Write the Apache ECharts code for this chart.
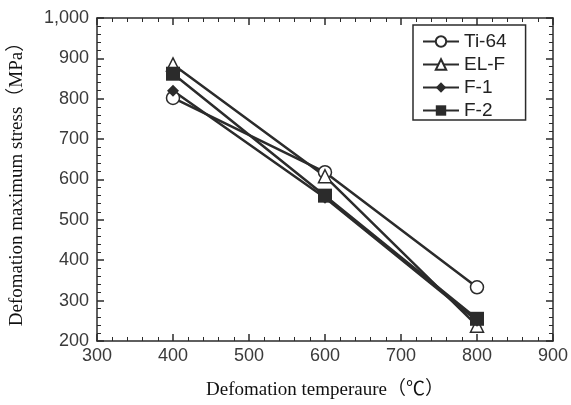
<!DOCTYPE html>
<html>
<head>
<meta charset="utf-8">
<script src="https://cdn.jsdelivr.net/npm/echarts@6/dist/echarts.min.js"></script>
<style>
  html, body { margin: 0; padding: 0; background: #fff; }
  #chart { width: 571px; height: 405px; }
</style>
</head>
<body>
<div id="chart"></div>
<script>
// Deformation temperature (°C) and peak stress (MPa) per alloy
const temperatures = [400, 600, 800];
const ti64 = [802, 618, 333];
const elF = [885, 608, 238];
const f1 = [820, 555, 250];
const f2 = [862, 560, 255];
const seriesNames = ['Ti-64', 'EL-F', 'F-1', 'F-2'];

const ink = '#2b2b2b';
const tickFont = { color: '#3a3a3a', fontSize: 18, fontFamily: 'Liberation Sans, Arial, sans-serif' };
const titleFont = { color: '#111', fontSize: 19, fontFamily: 'Liberation Serif, Noto Sans CJK SC, serif' };

function pairs(values) {
  return temperatures.map((t, i) => [t, values[i]]);
}

function makeSeries(name, values, symbol, size, filled) {
  return {
    name: name,
    type: 'line',
    data: pairs(values),
    symbol: symbol,
    symbolSize: size,
    showAllSymbol: true,
    lineStyle: { color: ink, width: 2.5 },
    itemStyle: filled
      ? { color: ink, borderColor: ink, borderWidth: 0 }
      : { color: '#fff', borderColor: ink, borderWidth: 1.5 },
    emphasis: { disabled: true },
    animation: false
  };
}

const chart = echarts.init(document.getElementById('chart'), null, { renderer: 'canvas' });

const commonAxisLine = { show: true, lineStyle: { color: ink, width: 1.5 } };
const majorTick = { show: true, inside: true, length: 7, lineStyle: { color: ink, width: 1.5 } };
const minorTick = { show: true, splitNumber: 5, length: 4, lineStyle: { color: ink, width: 1 } };

chart.setOption({
  backgroundColor: '#fff',
  animation: false,
  grid: { left: 95, right: 18, top: 18, bottom: 59 },
  legend: {
    orient: 'vertical',
    left: 413,
    top: 25,
    width: 112,
    padding: [7, 19, 0, 9],
    itemGap: 4,
    itemWidth: 36,
    itemHeight: 13,
    borderColor: ink,
    borderWidth: 1.5,
    textStyle: { color: '#222', fontSize: 19, lineHeight: 18, fontFamily: 'Liberation Sans, Arial, sans-serif', padding: [0, 0, 0, 0] },
    data: seriesNames
  },
  xAxis: [
    {
      type: 'value',
      min: 300,
      max: 900,
      interval: 100,
      position: 'bottom',
      name: 'Defomation temperaure（℃）',
      nameLocation: 'middle',
      nameGap: 40,
      nameTextStyle: titleFont,
      axisLine: commonAxisLine,
      axisTick: majorTick,
      minorTick: minorTick,
      axisLabel: Object.assign({ margin: 6 }, tickFont),
      splitLine: { show: false }
    },
    {
      type: 'value',
      min: 300,
      max: 900,
      interval: 100,
      position: 'top',
      axisLine: commonAxisLine,
      axisTick: majorTick,
      minorTick: minorTick,
      axisLabel: { show: false },
      splitLine: { show: false }
    }
  ],
  yAxis: [
    {
      type: 'value',
      min: 200,
      max: 1000,
      interval: 100,
      position: 'left',
      name: 'Defomation maximum stress（MPa）',
      nameLocation: 'middle',
      nameGap: 70,
      nameTextStyle: titleFont,
      axisLine: commonAxisLine,
      axisTick: majorTick,
      minorTick: minorTick,
      axisLabel: Object.assign({
        margin: 8,
        formatter: v => v.toLocaleString('en-US')
      }, tickFont),
      splitLine: { show: false }
    },
    {
      type: 'value',
      min: 200,
      max: 1000,
      interval: 100,
      position: 'right',
      axisLine: commonAxisLine,
      axisTick: majorTick,
      minorTick: minorTick,
      axisLabel: { show: false },
      splitLine: { show: false }
    }
  ],
  series: [
    makeSeries('Ti-64', ti64, 'circle', 13, false),
    makeSeries('EL-F', elF, 'triangle', 13, false),
    makeSeries('F-1', f1, 'diamond', 12, true),
    makeSeries('F-2', f2, 'rect', 14, true)
  ]
});
</script>
</body>
</html>
